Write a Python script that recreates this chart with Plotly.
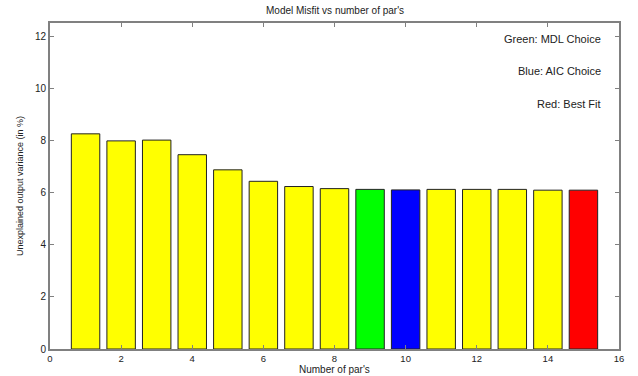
import plotly.graph_objects as go

# Model order (number of parameters) and the unexplained output variance in %
n_pars = list(range(1, 16))
misfit = [8.25, 7.98, 8.01, 7.45, 6.87, 6.43, 6.23, 6.15, 6.12, 6.10, 6.12, 6.12, 6.12, 6.09, 6.09]

# Highlighted models: MDL choice, AIC choice, best fit
mdl_choice = 9
aic_choice = 10
best_fit = 15

bar_colors = []
for n in n_pars:
    if n == mdl_choice:
        bar_colors.append("#00FF00")
    elif n == aic_choice:
        bar_colors.append("#0000FF")
    elif n == best_fit:
        bar_colors.append("#FF0000")
    else:
        bar_colors.append("#FFFF00")

notes = ["Green: MDL Choice", "Blue: AIC Choice", "Red: Best Fit"]
note_y = [11.9, 10.65, 9.38]

font = "Liberation Sans, Arial, sans-serif"

fig = go.Figure(
    go.Bar(
        x=n_pars,
        y=misfit,
        width=0.8,
        marker=dict(color=bar_colors, line=dict(color="#222222", width=1)),
    )
)

axis_common = dict(
    showline=True,
    linecolor="#808080",
    linewidth=2,
    mirror="ticks",
    ticks="inside",
    ticklen=4,
    tickcolor="#808080",
    showgrid=False,
    zeroline=False,
    tickfont=dict(family=font, size=10, color="#222222"),
)

fig.update_xaxes(range=[0, 16], dtick=2, tick0=0, ticklabelstandoff=0, **axis_common)
fig.update_xaxes(tickfont_size=9.5)
fig.update_yaxes(range=[0, 12.5], dtick=2, tick0=0, **axis_common)

for text, y in zip(notes, note_y):
    fig.add_annotation(
        x=15.55, y=y, xref="x", yref="y", text=text, showarrow=False,
        xanchor="right", yanchor="middle",
        font=dict(family=font, size=11, color="#222222"),
    )

fig.add_annotation(
    x=0.5, y=1, xref="paper", yref="paper", yshift=13, text="Model Misfit vs number of par's",
    showarrow=False, xanchor="center", yanchor="middle",
    font=dict(family=font, size=10, color="#222222"),
)
fig.add_annotation(
    x=0.5, y=0, xref="paper", yref="paper", yshift=-20, text="Number of par's",
    showarrow=False, xanchor="center", yanchor="middle",
    font=dict(family=font, size=10, color="#222222"),
)
fig.add_annotation(
    x=0, y=0.5, xref="paper", yref="paper", xshift=-30, text="Unexplained output variance (in %)",
    showarrow=False, textangle=-90, xanchor="center", yanchor="middle",
    font=dict(family=font, size=9, color="#222222"),
)

fig.update_layout(
    width=638,
    height=376,
    margin=dict(l=50, r=19, t=23, b=24),
    plot_bgcolor="white",
    paper_bgcolor="white",
    showlegend=False,
    bargap=0.2,
)

fig.write_html("out.html")
